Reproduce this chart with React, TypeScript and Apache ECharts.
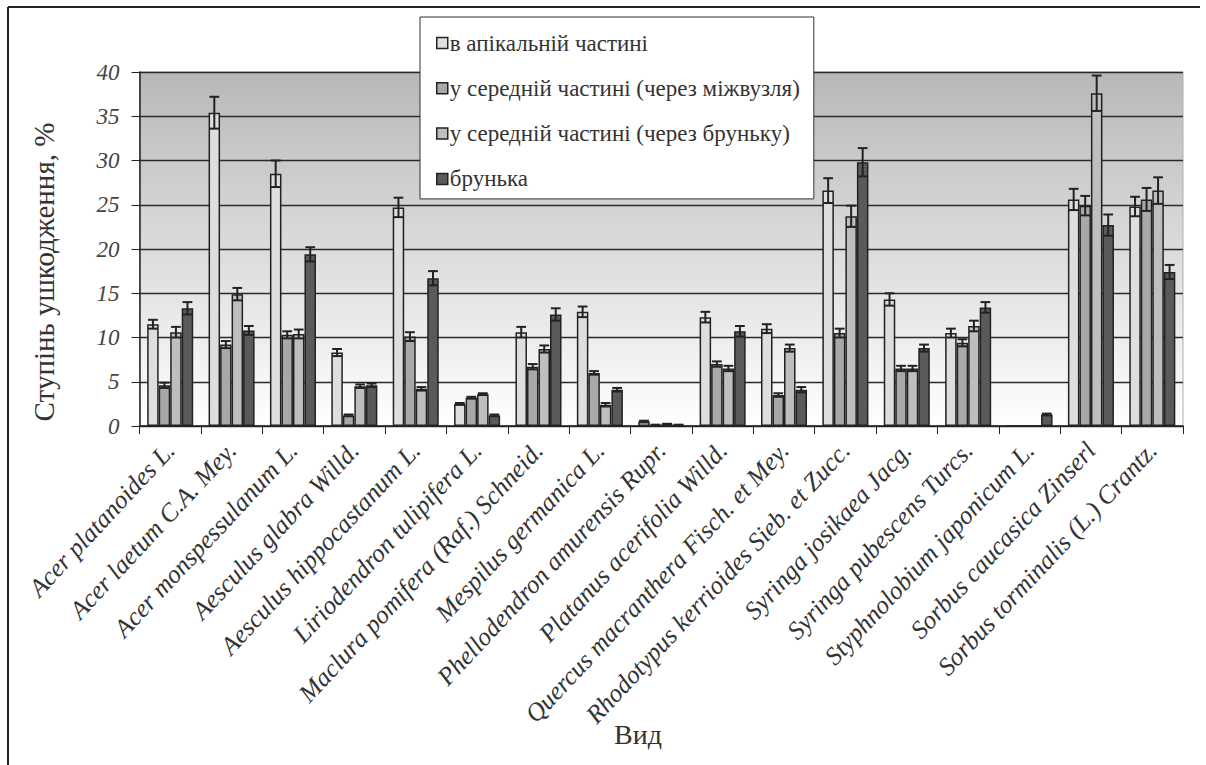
import React, { useEffect, useRef } from "react";
import * as echarts from "echarts";

const categories = [
  "Acer platanoides L.",
  "Acer laetum C.A. Mey.",
  "Acer monspessulanum L.",
  "Aesculus glabra Willd.",
  "Aesculus hippocastanum L.",
  "Liriodendron tulipifera L.",
  "Maclura pomifera (Raf.) Schneid.",
  "Mespilus germanica L.",
  "Phellodendron amurensis Rupr.",
  "Platanus acerifolia Willd.",
  "Quercus macranthera Fisch. et Mey.",
  "Rhodotypus kerrioides Sieb. et Zucc.",
  "Syringa josikaea Jacg.",
  "Syringa pubescens Turcs.",
  "Styphnolobium japonicum L.",
  "Sorbus caucasica Zinserl",
  "Sorbus torminalis (L.) Crantz.",
];

const seriesNames = [
  "в апікальній частині",
  "у середній частині (через міжвузля)",
  "у середній частині (через бруньку)",
  "брунька",
];

const apical = [11.5, 35.4, 28.5, 8.3, 24.7, 2.5, 10.6, 12.9, 0.5, 12.3, 11.0, 26.6, 14.3, 10.5, 0, 25.6, 24.8];
const midInternode = [4.6, 9.2, 10.3, 1.2, 10.1, 3.2, 6.7, 6.0, 0.1, 7.0, 3.5, 10.5, 6.5, 9.4, 0, 24.9, 25.6];
const midBud = [10.6, 14.9, 10.4, 4.5, 4.2, 3.6, 8.7, 2.4, 0.2, 6.5, 8.8, 23.7, 6.5, 11.3, 0, 37.6, 26.6];
const bud = [13.3, 10.8, 19.4, 4.6, 16.7, 1.2, 12.6, 4.1, 0.1, 10.7, 4.1, 29.8, 8.8, 13.4, 1.3, 22.7, 17.4];

const apicalErr = [0.5, 1.8, 1.5, 0.4, 1.1, 0.1, 0.6, 0.6, 0.1, 0.6, 0.5, 1.4, 0.7, 0.5, 0, 1.2, 1.1];
const midInternodeErr = [0.3, 0.4, 0.4, 0.1, 0.5, 0.1, 0.3, 0.2, 0.05, 0.3, 0.2, 0.5, 0.3, 0.4, 0, 1.1, 1.3];
const midBudErr = [0.6, 0.7, 0.5, 0.2, 0.2, 0.1, 0.4, 0.2, 0.05, 0.3, 0.4, 1.2, 0.3, 0.6, 0, 2.0, 1.5];
const budErr = [0.7, 0.5, 0.8, 0.2, 0.8, 0.1, 0.7, 0.2, 0.05, 0.6, 0.3, 1.6, 0.4, 0.6, 0.1, 1.2, 0.8];

const yTicks = [0, 5, 10, 15, 20, 25, 30, 35, 40];

const values = [apical, midInternode, midBud, bud];
const errors = [apicalErr, midInternodeErr, midBudErr, budErr];
const colors = ["#dedede", "#a8a8a8", "#bebebe", "#5a5a5a"];

const SERIF = "Liberation Serif";
const GAP = 0.25;

export default function App() {
  const ref = useRef<HTMLDivElement>(null);
  useEffect(() => {
    document.body.style.margin = "0";
    if (!ref.current) return;
    const chart = echarts.init(ref.current, null, { renderer: "svg" });

    const barSeries = values.map((vals, i) => ({
      name: seriesNames[i],
      type: "bar",
      data: vals,
      barGap: "0%",
      barCategoryGap: GAP * 100 + "%",
      itemStyle: { color: colors[i], borderColor: "#222", borderWidth: 1.5 },
      z: 2,
    }));

    const errSeries = errors.map((errs, si) => ({
      type: "custom",
      name: "err" + si,
      z: 5,
      silent: true,
      data: errs.map((e, ci) => [ci, values[si][ci], e]),
      encode: { x: 0, y: 1 },
      renderItem: (params: any, api: any) => {
        const ci = api.value(0);
        const v = api.value(1);
        const e = api.value(2);
        if (!e) return null;
        const band = api.size([1, 0])[0];
        const group = band * (1 - GAP);
        const bw = group / 4;
        const cx = api.coord([ci, 0])[0] - group / 2 + bw * (si + 0.5);
        const top = api.coord([ci, v + e])[1];
        const bot = api.coord([ci, Math.max(v - e, 0)])[1];
        const cw = bw * 0.85;
        const style = { stroke: "#222", lineWidth: 2 };
        return {
          type: "group",
          children: [
            { type: "line", shape: { x1: cx, y1: top, x2: cx, y2: bot }, style },
            { type: "line", shape: { x1: cx - cw / 2, y1: top, x2: cx + cw / 2, y2: top }, style },
            { type: "line", shape: { x1: cx - cw / 2, y1: bot, x2: cx + cw / 2, y2: bot }, style },
          ],
        };
      },
    }));

    chart.setOption({
      animation: false,
      backgroundColor: "#ffffff",
      textStyle: { fontFamily: SERIF },
      grid: {
        left: 139.5,
        right: 23,
        top: 72,
        bottom: 339,
        show: true,
        outerBoundsMode: "none",
        containLabel: false,
        backgroundColor: new echarts.graphic.LinearGradient(0, 0, 0, 1, [
          { offset: 0, color: "#b8b8b8" },
          { offset: 1, color: "#ffffff" },
        ]),
        borderColor: "#b0b0b0",
        borderWidth: 1,
      },
      legend: {
        data: seriesNames,
        orient: "vertical",
        left: 420,
        top: 17,
        backgroundColor: "#ffffff",
        borderColor: "#333",
        borderWidth: 1,
        padding: [14.5, 14, 8.5, 16],
        itemWidth: 11,
        itemHeight: 11,
        itemGap: 22.3,
        icon: "rect",
        itemStyle: { borderColor: "#222", borderWidth: 1.5 },
        textStyle: { fontFamily: SERIF, fontSize: 23, color: "#333", lineHeight: 23, padding: [0, 0, 0, -3] },
      },
      xAxis: {
        type: "category",
        data: categories,
        axisLine: { lineStyle: { color: "#222", width: 1.5 } },
        axisTick: { show: true, length: 8, lineStyle: { color: "#222" } },
        axisLabel: {
          rotate: 47,
          interval: 0,
          fontFamily: SERIF,
          fontStyle: "italic",
          fontSize: 25.5,
          color: "#333",
          margin: 20,
        },
      },
      yAxis: {
        type: "value",
        min: yTicks[0],
        max: yTicks[yTicks.length - 1],
        interval: 5,
        axisLine: { show: true, lineStyle: { color: "#222", width: 1.5 } },
        axisTick: { show: true, length: 8, lineStyle: { color: "#222" } },
        splitLine: { lineStyle: { color: "#2a2a2a", width: 1.4 } },
        axisLabel: {
          fontFamily: SERIF,
          fontStyle: "italic",
          fontSize: 23,
          color: "#444",
          margin: 20,
        },
      },
      graphic: [
        { type: "line", shape: { x1: 8, y1: 7, x2: 1200, y2: 7 }, style: { stroke: "#222", lineWidth: 2 } },
        { type: "line", shape: { x1: 8, y1: 7, x2: 8, y2: 765 }, style: { stroke: "#222", lineWidth: 2 } },
        {
          type: "text",
          x: 44,
          y: 272,
          rotation: Math.PI / 2,
          style: {
            text: "Ступінь ушкодження, %",
            fontFamily: SERIF,
            fontSize: 29,
            fill: "#333",
            textAlign: "center",
            textVerticalAlign: "middle",
            align: "center",
            verticalAlign: "middle",
          },
        },
        {
          type: "text",
          x: 638,
          y: 734,
          style: {
            text: "Вид",
            fontFamily: SERIF,
            fontSize: 28,
            fill: "#333",
            textAlign: "center",
            textVerticalAlign: "middle",
            align: "center",
            verticalAlign: "middle",
          },
        },
      ],
      series: [...barSeries, ...errSeries],
    });
    return () => chart.dispose();
  }, []);
  return <div ref={ref} style={{ width: 1206, height: 765 }} />;
}
